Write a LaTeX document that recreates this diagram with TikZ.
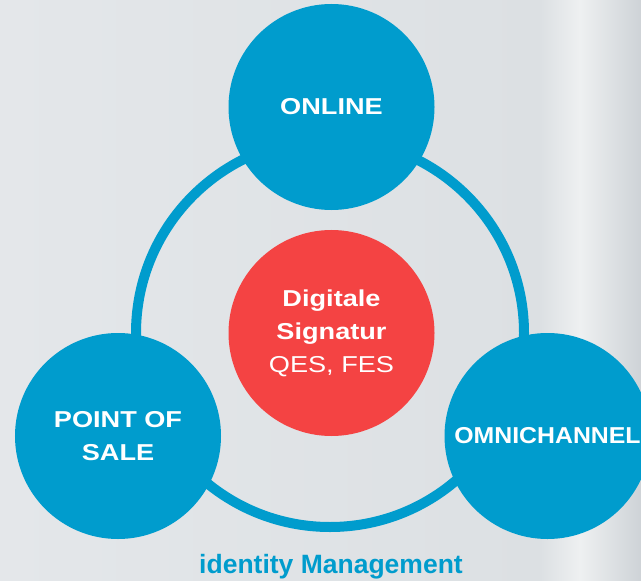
\documentclass[tikz,border=0pt]{standalone}
\usepackage{fontspec}
\setmainfont{Liberation Sans}
\newfontfamily\lblfont[FakeStretch=1.18]{Liberation Sans}
\newfontfamily\omnifont[FakeStretch=1.08]{Liberation Sans}
\usetikzlibrary{positioning}

\definecolor{idblue}{RGB}{0,156,205}
\definecolor{idred}{RGB}{244,67,67}
\definecolor{bgleft}{RGB}{228,231,234}
\definecolor{bgright}{RGB}{220,224,227}
\definecolor{bglight}{RGB}{238,240,241}
\definecolor{bgdark}{RGB}{206,211,215}

\tikzset{
  bubble/.style={circle, fill=idblue, minimum size=206bp, inner sep=0pt,
    text=white, align=center, font=\lblfont\bfseries\fontsize{23bp}{33bp}\selectfont},
  corebubble/.style={bubble, fill=idred}
}

\begin{document}
\begin{tikzpicture}[x=1bp, y=-1bp]
      % Background (blurred photo look)
      \useasboundingbox (0,0) rectangle (641,581);
      \shade[left color=bgleft, right color=bgright] (0,0) rectangle (540,581);
      \shade[left color=bgright, right color=bglight] (540,0) rectangle (580,581);
      \shade[left color=bglight, right color=bgdark] (580,0) rectangle (641,581);

      % Ring linking the three channels
      \coordinate (hub) at (330,333);
      \draw[idblue, line width=10bp] (hub) circle (194);

      % Channels
      \node[bubble] (online) at (331.5,107) {ONLINE};
      \node[bubble] (pos) at (118,436) {POINT OF\\SALE};
      \node[bubble, font=\omnifont\bfseries\fontsize{23bp}{33bp}\selectfont] (omni) at (547.5,436) {OMNICHANNEL};

      % Core
      \node[corebubble] (core) at (331.5,333) {Digitale\\Signatur\\{\mdseries QES, FES}};

      % Caption
      \node[idblue, font=\bfseries\fontsize{26.5bp}{30bp}\selectfont, anchor=base] (idm) at (331,573) {identity Management};
\end{tikzpicture}
\end{document}
